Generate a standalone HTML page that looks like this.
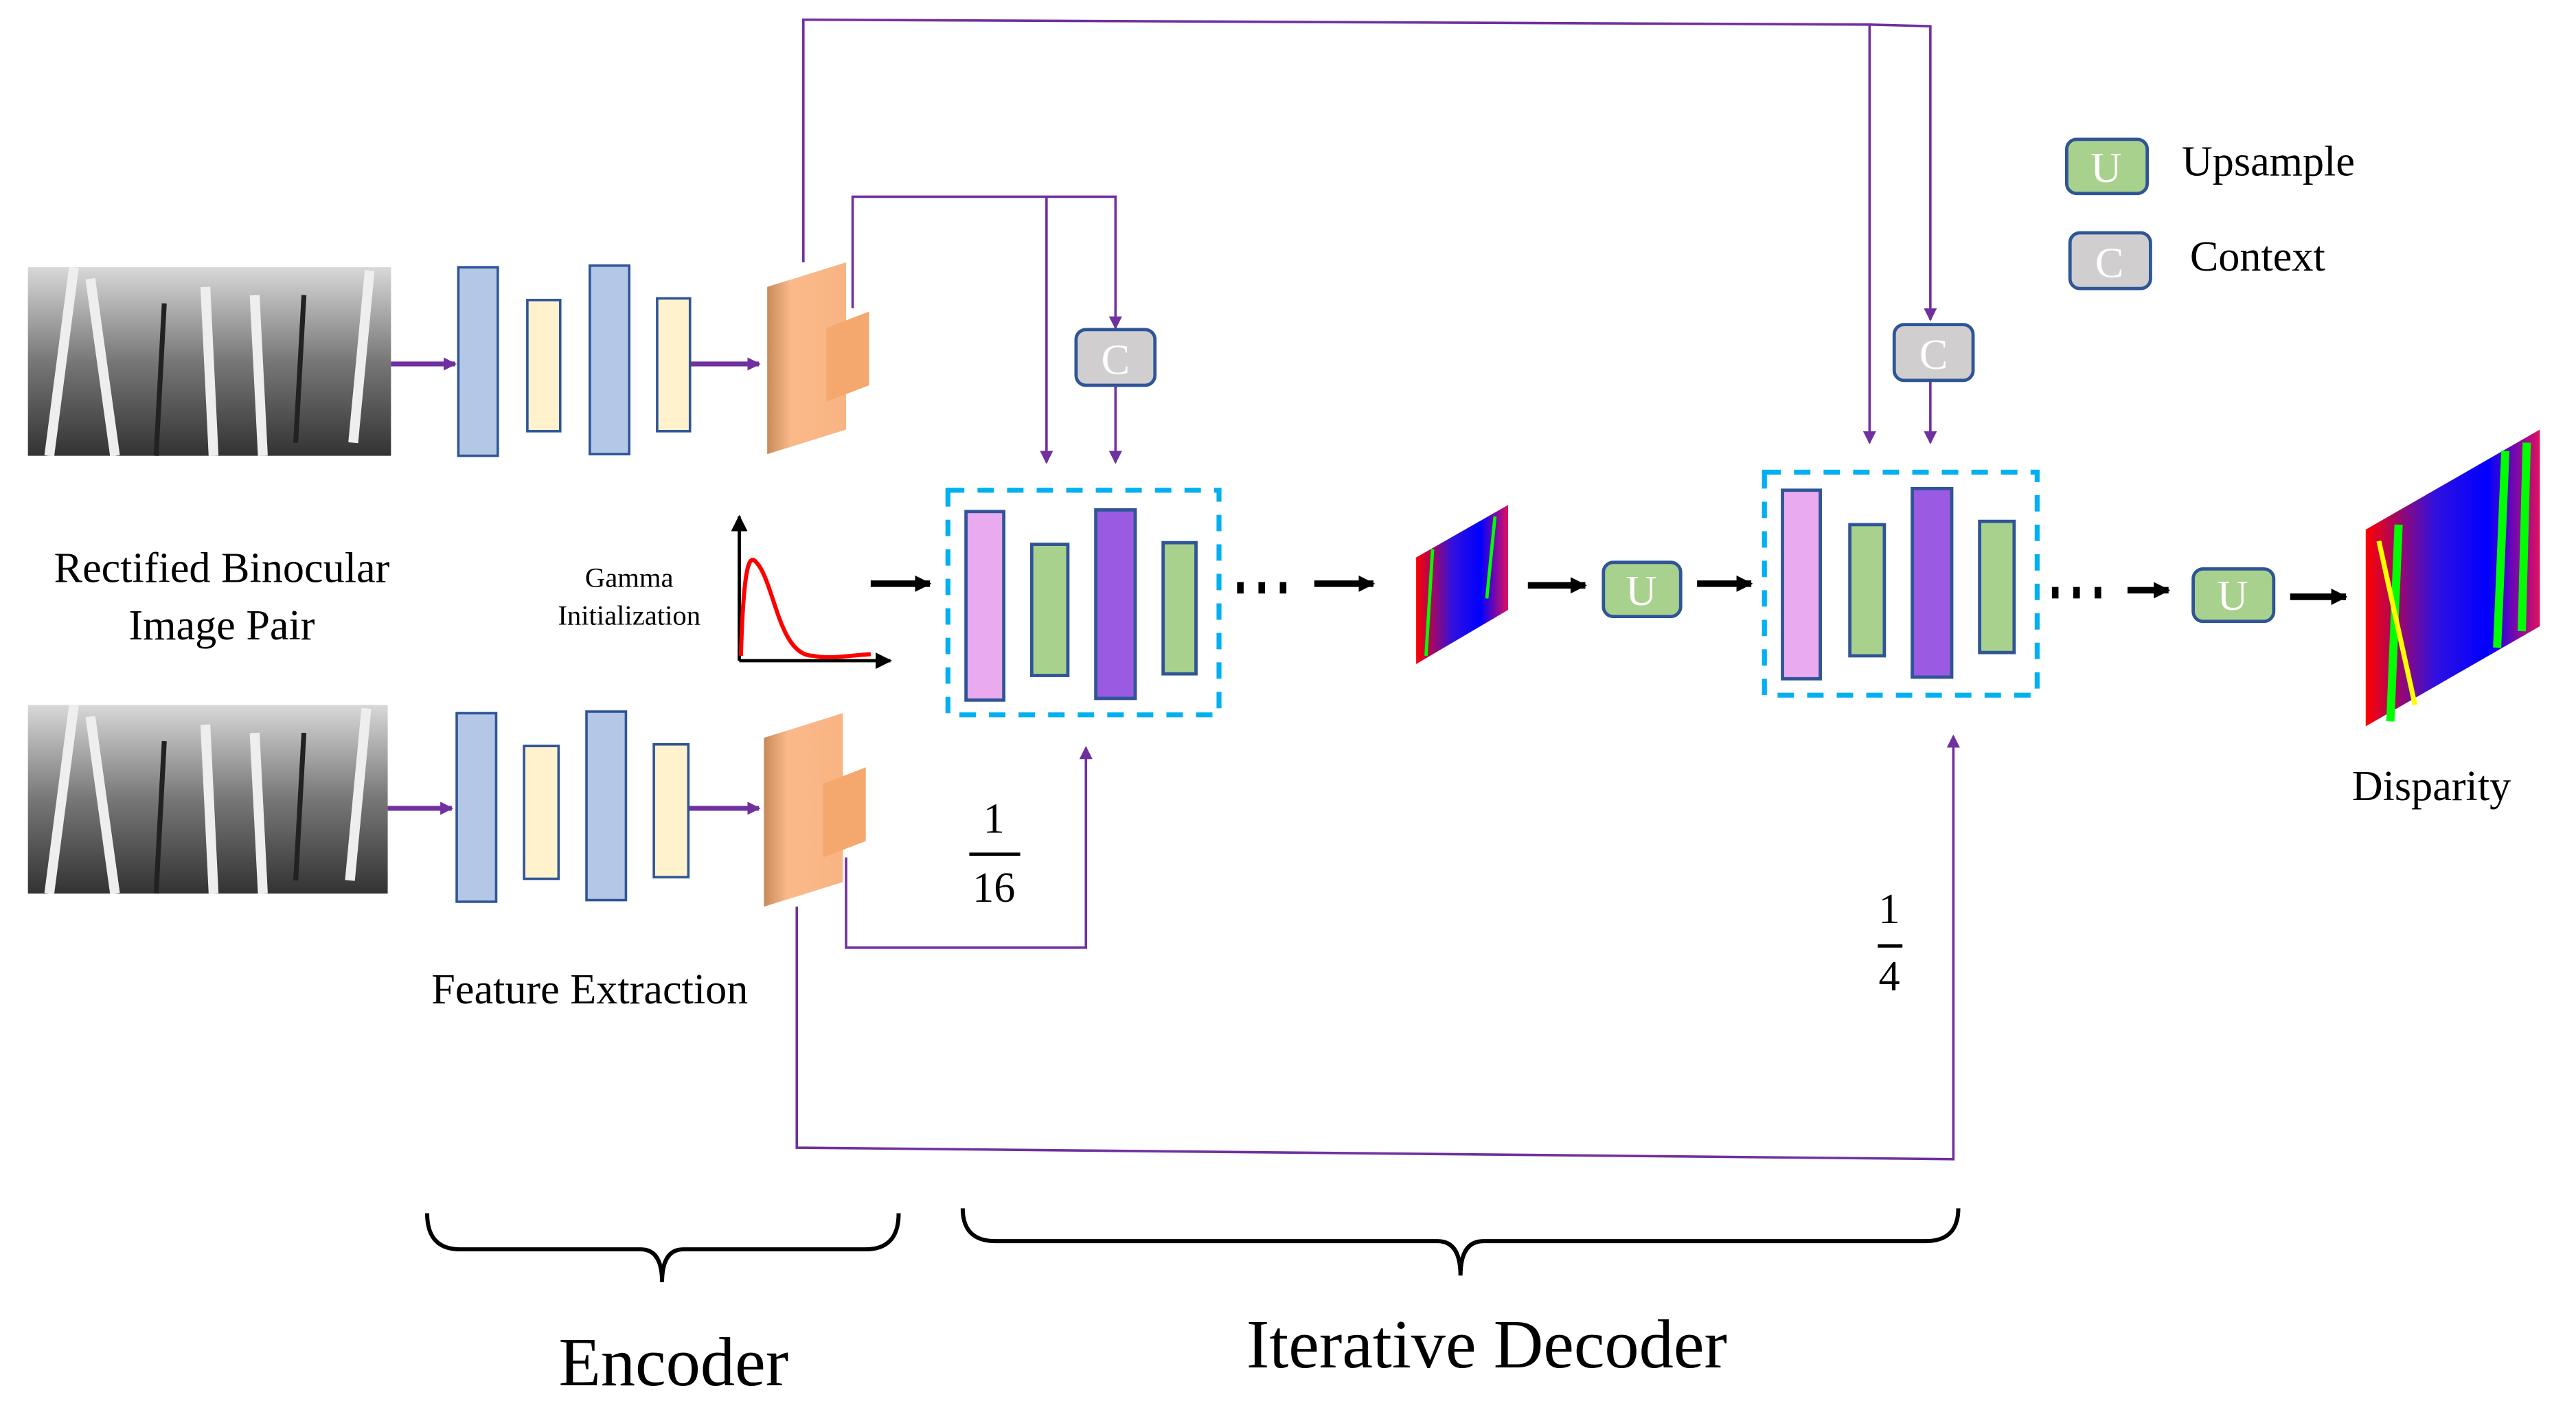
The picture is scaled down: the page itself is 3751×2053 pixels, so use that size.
<!DOCTYPE html>
<html><head><meta charset="utf-8"><style>
html,body{margin:0;padding:0;background:#fff;width:3751px;height:2053px;overflow:hidden}
svg{display:block}
text{font-family:"Liberation Serif",serif;fill:#000}
</style></head><body>
<svg width="3751" height="2053" viewBox="0 0 1568 860" preserveAspectRatio="none" xmlns="http://www.w3.org/2000/svg">
<defs>
<marker id="pa" markerWidth="8" markerHeight="8" refX="7" refY="4" orient="auto" markerUnits="userSpaceOnUse"><path d="M0,0 L8,4 L0,8 Z" fill="#7030a0"/></marker>
<marker id="pb" markerWidth="10" markerHeight="10" refX="9" refY="5" orient="auto" markerUnits="userSpaceOnUse"><path d="M0,0 L10,5 L0,10 Z" fill="#000"/></marker>
<linearGradient id="og" x1="0" x2="1"><stop offset="0" stop-color="#c88a5a"/><stop offset="0.3" stop-color="#fbb98a"/><stop offset="1" stop-color="#f8b482"/></linearGradient>
<linearGradient id="gr" x1="0" y1="0" x2="0" y2="1"><stop offset="0" stop-color="#d8d8d8"/><stop offset="0.5" stop-color="#777"/><stop offset="1" stop-color="#333"/></linearGradient>
<linearGradient id="dg" x1="0" x2="1"><stop offset="0" stop-color="#f00"/><stop offset="0.4" stop-color="#3010e0"/><stop offset="0.7" stop-color="#0000ff"/><stop offset="1" stop-color="#e01060"/></linearGradient>
</defs>

<g>
<rect x="17" y="163" width="221" height="115" fill="url(#gr)"/>
<g stroke="#eee" stroke-width="6"><line x1="30" y1="278" x2="45" y2="163"/><line x1="70" y1="278" x2="55" y2="170"/><line x1="130" y1="278" x2="125" y2="175"/><line x1="160" y1="278" x2="155" y2="180"/><line x1="215" y1="270" x2="225" y2="165"/></g>
<g stroke="#222" stroke-width="3"><line x1="95" y1="278" x2="100" y2="185"/><line x1="180" y1="270" x2="185" y2="180"/></g>
<rect x="17" y="430" width="219" height="115" fill="url(#gr)"/>
<g stroke="#eee" stroke-width="6"><line x1="30" y1="545" x2="45" y2="430"/><line x1="70" y1="545" x2="55" y2="437"/><line x1="130" y1="545" x2="125" y2="442"/><line x1="160" y1="545" x2="155" y2="447"/><line x1="213" y1="537" x2="223" y2="432"/></g>
<g stroke="#222" stroke-width="3"><line x1="95" y1="545" x2="100" y2="452"/><line x1="180" y1="537" x2="185" y2="447"/></g>
</g>

<g stroke="#7030a0" stroke-width="3" fill="none">
<line x1="238" y1="222" x2="277" y2="222" marker-end="url(#pa)"/>
<line x1="420" y1="222" x2="462" y2="222" marker-end="url(#pa)"/>
<line x1="236" y1="493" x2="275" y2="493" marker-end="url(#pa)"/>
<line x1="419" y1="493" x2="462" y2="493" marker-end="url(#pa)"/>
</g>
<g stroke="#2f5597" stroke-width="1.5">
<rect x="279" y="163" width="24" height="115" fill="#b4c7e7"/>
<rect x="321" y="183" width="20" height="80" fill="#fff2cc"/>
<rect x="359" y="162" width="24" height="115" fill="#b4c7e7"/>
<rect x="400" y="182" width="20" height="81" fill="#fff2cc"/>
<rect x="278" y="435" width="24" height="115" fill="#b4c7e7"/>
<rect x="319" y="455" width="21" height="81" fill="#fff2cc"/>
<rect x="357" y="434" width="24" height="115" fill="#b4c7e7"/>
<rect x="398" y="454" width="21" height="81" fill="#fff2cc"/>
</g>
<g>
<path d="M467,175 L515,160 L515,262 L467,277 Z" fill="url(#og)"/>
<path d="M503,200 L529,190 L529,235 L503,245 Z" fill="#f5a86e"/>
<path d="M465,450 L513,435 L513,538 L465,553 Z" fill="url(#og)"/>
<path d="M501,478 L527,468 L527,513 L501,523 Z" fill="#f5a86e"/>
</g>

<g stroke="#7030a0" stroke-width="1.5" fill="none">
<polyline points="489,160 489,12 1138,15 1138,270" marker-end="url(#pa)"/>
<polyline points="1138,15 1175,16 1175,195" marker-end="url(#pa)"/>
<line x1="1175" y1="232" x2="1175" y2="270" marker-end="url(#pa)"/>
<polyline points="519,188 519,120 679,120 679,200" marker-end="url(#pa)"/>
<line x1="637" y1="120" x2="637" y2="282" marker-end="url(#pa)"/>
<line x1="679" y1="235" x2="679" y2="282" marker-end="url(#pa)"/>
<polyline points="515,523 515,578 661,578 661,456" marker-end="url(#pa)"/>
<polyline points="485,553 485,700 1189,707 1189,449" marker-end="url(#pa)"/>
</g>

<g stroke="#2f5597" stroke-width="2" fill="#d0cece">
<rect x="655" y="201" width="48" height="34" rx="6"/>
<rect x="1153" y="198" width="48" height="34" rx="6"/>
<rect x="1260" y="142" width="49" height="34" rx="6"/>
</g>
<g stroke="#2f5597" stroke-width="2" fill="#a9d18e">
<rect x="976" y="343" width="47" height="33" rx="6"/>
<rect x="1335" y="347" width="49" height="32" rx="6"/>
<rect x="1258" y="85" width="49" height="33" rx="6"/>
</g>
<g font-size="26" text-anchor="middle">
<text x="679" y="228" style="fill:#fff">C</text>
<text x="1177" y="225" style="fill:#fff">C</text>
<text x="1284" y="169" style="fill:#fff">C</text>
<text x="999" y="369" style="fill:#fff">U</text>
<text x="1359" y="372" style="fill:#fff">U</text>
<text x="1282" y="111" style="fill:#fff">U</text>
</g>

<g stroke="#000" stroke-width="2" fill="none">
<line x1="450" y1="403" x2="450" y2="315" marker-end="url(#pb)"/>
<line x1="450" y1="403" x2="542" y2="403" marker-end="url(#pb)"/>
</g>
<path d="M451,400 C453,330 458,340 462,345 C472,360 475,400 495,400 C505,402 515,400 530,399" stroke="#f00" stroke-width="2.5" fill="none"/>
<text x="383" y="358" font-size="17" text-anchor="middle">Gamma</text>
<text x="383" y="381" font-size="17" text-anchor="middle">Initialization</text>

<g stroke="#000" stroke-width="4" fill="none">
<line x1="530" y1="356" x2="566" y2="356" marker-end="url(#pb)"/>
<line x1="800" y1="356" x2="836" y2="356" marker-end="url(#pb)"/>
<line x1="930" y1="357" x2="965" y2="357" marker-end="url(#pb)"/>
<line x1="1033" y1="356" x2="1066" y2="356" marker-end="url(#pb)"/>
<line x1="1295" y1="360" x2="1320" y2="360" marker-end="url(#pb)"/>
<line x1="1394" y1="364" x2="1428" y2="364" marker-end="url(#pb)"/>
</g>
<g fill="#000"><rect x="753" y="355" width="4" height="7"/><rect x="766" y="355" width="4" height="7"/><rect x="779" y="355" width="4" height="7"/>
<rect x="1249" y="358" width="4" height="7"/><rect x="1262" y="358" width="4" height="7"/><rect x="1275" y="358" width="4" height="7"/></g>

<g stroke="#00b0f0" stroke-width="3" fill="none" stroke-dasharray="10,8">
<rect x="577" y="299" width="165" height="137"/>
<rect x="1074" y="288" width="166" height="136"/>
</g>
<g stroke="#2f5597" stroke-width="2">
<rect x="588" y="312" width="23" height="115" fill="#eaaaf0"/>
<rect x="628" y="332" width="22" height="80" fill="#a9d18e"/>
<rect x="667" y="311" width="24" height="115" fill="#9a5ae2"/>
<rect x="708" y="331" width="20" height="80" fill="#a9d18e"/>
<rect x="1085" y="299" width="23" height="115" fill="#eaaaf0"/>
<rect x="1126" y="320" width="21" height="80" fill="#a9d18e"/>
<rect x="1164" y="298" width="24" height="115" fill="#9a5ae2"/>
<rect x="1205" y="318" width="21" height="80" fill="#a9d18e"/>
</g>

<path d="M862,340 L918,308 L918,372 L862,405 Z" fill="url(#dg)"/>
<g stroke="#0f0" stroke-width="2"><line x1="868" y1="400" x2="872" y2="335"/><line x1="905" y1="365" x2="910" y2="315"/></g>
<path d="M1440,323 L1546,262 L1546,382 L1440,443 Z" fill="url(#dg)"/>
<g stroke="#0f0" stroke-width="5"><line x1="1455" y1="440" x2="1460" y2="320"/><line x1="1520" y1="395" x2="1525" y2="275"/><line x1="1535" y1="385" x2="1538" y2="270"/></g>
<g stroke="#ffff00" stroke-width="3"><line x1="1448" y1="330" x2="1470" y2="430"/></g>

<g font-size="26">
<text x="135" y="355" text-anchor="middle">Rectified Binocular</text>
<text x="135" y="390" text-anchor="middle">Image Pair</text>
<text x="359" y="612" text-anchor="middle">Feature Extraction</text>
<text x="1480" y="488" text-anchor="middle">Disparity</text>
<text x="1328" y="107">Upsample</text>
<text x="1333" y="165">Context</text>
<text x="605" y="508" text-anchor="middle">1</text>
<text x="605" y="550" text-anchor="middle">16</text>
<text x="1150" y="563" text-anchor="middle">1</text>
<text x="1150" y="604" text-anchor="middle">4</text>
</g>
<line x1="590" y1="521" x2="621" y2="521" stroke="#000" stroke-width="2"/>
<line x1="1143" y1="577" x2="1158" y2="577" stroke="#000" stroke-width="2"/>

<g stroke="#000" stroke-width="2.5" fill="none">
<path d="M260,740 Q260,762 280,762 L390,762 Q403,762 403,782 Q403,762 416,762 L527,762 Q547,762 547,740"/>
<path d="M586,737 Q586,757 606,757 L875,757 Q889,757 889,778 Q889,757 903,757 L1172,757 Q1192,757 1192,737"/>
</g>
<text x="410" y="845" font-size="42" text-anchor="middle">Encoder</text>
<text x="905" y="834" font-size="42" text-anchor="middle">Iterative Decoder</text>
</svg>
</body></html>
